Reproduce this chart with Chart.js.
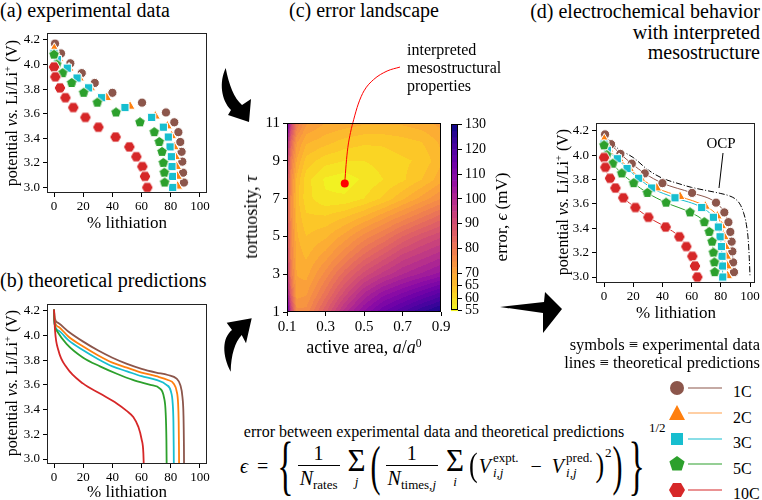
<!DOCTYPE html>
<html>
<head>
<meta charset="utf-8">
<script src="https://cdn.jsdelivr.net/npm/chart.js@4.4.1/dist/chart.umd.min.js"></script>
<style>
  body { margin: 0; width: 762px; height: 500px; position: relative; overflow: hidden; background: #fff; font-family: "Liberation Serif", serif; color: #000; }
  .t { position: absolute; white-space: nowrap; line-height: 1; }
  .rot { transform: translate(-50%, -50%) rotate(-90deg); }
  .ctr { transform: translate(-50%, -50%); }
  canvas { position: absolute; }
  sup { font-size: 0.65em; vertical-align: 0.55em; line-height: 0; }
  sub { font-size: 0.65em; vertical-align: -0.3em; line-height: 0; }
  #eq { position: absolute; left: 240px; top: 436px; height: 60px; display: flex; align-items: center; font-size: 20px; white-space: nowrap; }
  .frac { display: inline-flex; flex-direction: column; text-align: center; margin: 0 4px; line-height: 1.05; }
  .frac > span:first-child { border-bottom: 1px solid #000; padding-bottom: 1px; }
  .frac > span:last-child { padding: 2px 2px 0; }
  .sum { display: inline-flex; flex-direction: column; align-items: center; margin: 0 4px; line-height: 1; }
  .sum .sig { font-size: 31px; }
  .sum .lim { font-size: 13px; margin-top: -1px; }
  .br { display: inline-block; }
  .sp { margin: 0 1px; }
  .ss { display: inline-flex; flex-direction: column; font-size: 13px; line-height: 1.15; margin-left: 2px; margin-right: 2px; }
</style>
</head>
<body>

<div class="t" style="left:0;top:0;font-size:20px">(a) experimental data</div>
<div class="t" style="left:0;top:270px;font-size:20px">(b) theoretical predictions</div>
<div class="t ctr" style="left:364px;top:10px;font-size:20px">(c) error landscape</div>
<div class="t" style="right:2px;top:1px;font-size:20px;line-height:20.5px;text-align:right">(d) electrochemical behavior<br>with interpreted<br>mesostructure</div>

<canvas id="chartA" width="203" height="193" style="left:12px;top:22px"></canvas>
<canvas id="chartB" width="203" height="193" style="left:12px;top:293px"></canvas>
<canvas id="chartC" width="196" height="297" style="left:257px;top:40px"></canvas>
<canvas id="chartBar" width="47" height="209" style="left:451px;top:113px"></canvas>
<canvas id="chartD" width="201" height="193" style="left:561px;top:112px"></canvas>

<div class="t rot" style="left:12px;top:113px;font-size:16px">potential <i>vs.</i> Li/Li<sup>+</sup> (V)</div>
<div class="t ctr" style="left:127px;top:222px;font-size:17px">% lithiation</div>
<div class="t rot" style="left:12px;top:383px;font-size:16px">potential <i>vs.</i> Li/Li<sup>+</sup> (V)</div>
<div class="t ctr" style="left:127px;top:491px;font-size:17px">% lithiation</div>

<div class="t rot" style="left:251px;top:217px;font-size:18px">tortuosity, <i>τ</i></div>
<div class="t ctr" style="left:364px;top:347px;font-size:18px">active area, <i>a</i>/<i>a</i><sup>0</sup></div>
<div class="t rot" style="left:501px;top:217px;font-size:17px">error, <i>ϵ</i> (mV)</div>
<div class="t" style="left:407px;top:41px;font-size:16px;line-height:18px">interpreted<br>mesostructural<br>properties</div>

<div class="t rot" style="left:563px;top:202px;font-size:16px">potential <i>vs.</i> Li/Li<sup>+</sup> (V)</div>
<div class="t ctr" style="left:676px;top:312px;font-size:17px">% lithiation</div>
<div class="t ctr" style="left:721px;top:143px;font-size:15px">OCP</div>

<div class="t" style="right:2px;top:336px;font-size:16.5px;line-height:18px;text-align:right">symbols ≡ experimental data<br>lines ≡ theoretical predictions</div>
<div class="t" style="left:733px;top:379px;font-size:16px;line-height:25.5px">1C<br>2C<br>3C<br>5C<br>10C</div>

<div class="t ctr" style="left:434px;top:432px;font-size:16px">error between experimental data and theoretical predictions</div>
<div id="eq">
  <i>ϵ</i><span style="margin:0 9px">=</span>
  <span class="br" style="font-size:34px;transform:scaleY(1.95)">{</span>
  <span class="frac"><span>1</span><span><i>N</i><sub>rates</sub></span></span>
  <span class="sum"><span class="sig">Σ</span><span class="lim"><i>j</i></span></span>
  <span class="br sp" style="font-size:30px;transform:scaleY(1.85)">(</span>
  <span class="frac"><span>1</span><span><i>N</i><sub>times,<i>j</i></sub></span></span>
  <span class="sum"><span class="sig">Σ</span><span class="lim"><i>i</i></span></span>
  <span class="br sp" style="font-size:26px;transform:scaleY(1.3)">(</span>
  <i>V</i><span class="ss"><span>expt.</span><span><i>i,j</i></span></span>
  <span style="margin:0 10px">−</span>
  <i>V</i><span class="ss"><span>pred.</span><span><i>i,j</i></span></span>
  <span class="br sp" style="font-size:26px;transform:scaleY(1.3)">)</span><span style="font-size:13px;align-self:flex-start;margin-top:9px">2</span>
  <span class="br sp" style="font-size:30px;transform:scaleY(1.85)">)</span>
  <span class="br" style="font-size:34px;transform:scaleY(1.95);margin-left:5px">}</span>
  <span style="align-self:flex-start;font-size:13px;margin-left:4px;margin-top:-16px">1/2</span>
</div>

<svg width="762" height="500" style="position:absolute;left:0;top:0">
  <path d="M225.7 68 C219 82 221 100 231 110 L228 115 L249 122 L251 99 L242 105 C234 98 229 85 225.7 68 Z" fill="#000"/>
  <path d="M230.7 371.7 C222 355 222 338 232 330 L226.7 322.7 L251.7 318.3 L246 343.3 L241.7 335 C235 342 231 355 230.7 371.7 Z" fill="#000"/>
  <path d="M500 307 L544 302 L545 292 L562 309 L543 333 L543 313 Z" fill="#000"/>
  <line x1="723" y1="153" x2="719" y2="188" stroke="#000" stroke-width="1"/>
  <circle cx="677" cy="388" r="7" fill="#8c564b"/>
  <polygon points="677,405 685,420 669,420" fill="#ff7f0e"/>
  <rect x="671" y="433" width="12" height="12" fill="#17becf"/>
  <polygon points="677,456 684.6,461.5 681.7,470.5 672.3,470.5 669.4,461.5" fill="#2ca02c"/>
  <polygon points="685,490 681,496.9 673,496.9 669,490 673,483.1 681,483.1" fill="#d62728"/>
  <line x1="688" y1="388" x2="722" y2="388" stroke="#8c564b" stroke-width="1.2"/>
  <line x1="688" y1="413" x2="722" y2="413" stroke="#ffa04a" stroke-width="1.2"/>
  <line x1="688" y1="439" x2="722" y2="439" stroke="#17becf" stroke-width="1.2"/>
  <line x1="688" y1="464" x2="722" y2="464" stroke="#2ca02c" stroke-width="1.2"/>
  <line x1="688" y1="490" x2="722" y2="490" stroke="#d62728" stroke-width="1.2"/>
</svg>

<script>
// --- Data ---
const rates = ["1C", "2C", "3C", "5C", "10C"];
const rateColors = ["#8c564b", "#ff7f0e", "#17becf", "#2ca02c", "#d62728"];

// experimental symbols (% lithiation, V)
const exptLith1C = [0.7, 4.8, 11.2, 19.0, 27.9, 40.0, 60.3, 76.7, 82.4, 85.2, 86.5, 87.4, 87.9, 88.4, 89.0];
const exptVolt1C = [4.17, 4.09, 4.01, 3.93, 3.85, 3.77, 3.69, 3.61, 3.53, 3.45, 3.37, 3.29, 3.21, 3.12, 3.04];
const exptLith2C = [0.2, 3.2, 10.3, 17.4, 25.1, 36.1, 52.1, 69.4, 77.6, 80.6, 82.4, 83.3, 84.0, 84.5, 84.7];
const exptVolt2C = [4.13, 4.05, 3.97, 3.89, 3.81, 3.73, 3.66, 3.58, 3.50, 3.42, 3.33, 3.25, 3.17, 3.09, 3.01];
const exptLith3C = [0.0, 2.3, 9.1, 15.8, 23.7, 32.6, 48.6, 66.9, 74.9, 78.3, 79.5, 80.4, 80.8, 81.1, 81.3];
const exptVolt3C = [4.09, 4.04, 3.97, 3.89, 3.81, 3.73, 3.65, 3.57, 3.49, 3.41, 3.33, 3.25, 3.17, 3.09, 3.00];
const exptLith5C = [0.0, 1.8, 5.9, 12.1, 20.3, 29.7, 42.5, 58.9, 68.7, 72.1, 74.0, 74.9, 75.6, 75.8];
const exptVolt5C = [4.08, 4.00, 3.93, 3.85, 3.77, 3.69, 3.61, 3.53, 3.45, 3.37, 3.29, 3.20, 3.12, 3.04];
const exptLith10C = [0.0, 0.9, 4.1, 7.8, 13.2, 21.5, 30.4, 42.2, 51.6, 56.4, 60.5, 62.3, 63.9];
const exptVolt10C = [3.98, 3.90, 3.81, 3.73, 3.65, 3.57, 3.49, 3.41, 3.33, 3.25, 3.17, 3.09, 3.00];

// theoretical predictions, panel (b)
const predLith1C = [0, 0.5, 3, 10, 20, 30, 40, 50, 60, 70, 78, 84, 86.5, 88, 88.7, 89, 89.1];
const predVolt1C = [4.21, 4.14, 4.10, 4.03, 3.95, 3.88, 3.82, 3.77, 3.73, 3.70, 3.68, 3.65, 3.60, 3.50, 3.35, 3.10, 2.90];
const predLith2C = [0, 0.4, 3, 10, 20, 30, 40, 50, 60, 70, 78, 82, 84, 85, 85.4, 85.6, 85.7];
const predVolt2C = [4.21, 4.12, 4.07, 3.99, 3.91, 3.84, 3.78, 3.74, 3.70, 3.67, 3.64, 3.61, 3.55, 3.45, 3.30, 3.10, 2.90];
const predLith3C = [0, 0.3, 3, 10, 20, 30, 40, 50, 60, 70, 77, 80, 81.3, 81.8, 82, 82.1];
const predVolt3C = [4.21, 4.10, 4.04, 3.96, 3.88, 3.81, 3.75, 3.71, 3.67, 3.64, 3.60, 3.55, 3.45, 3.30, 3.10, 2.90];
const predLith5C = [0, 0.2, 1.8, 8.7, 20, 31.5, 43, 54, 66, 72.6, 75.3, 76.5, 77, 77.2];
const predVolt5C = [4.21, 4.12, 4.04, 3.93, 3.82, 3.75, 3.69, 3.64, 3.60, 3.57, 3.50, 3.37, 3.15, 2.90];
const predLith10C = [0, 0.7, 3, 8.7, 20, 31.5, 43, 49.8, 54.3, 57.8, 60, 61.2, 61.6];
const predVolt10C = [4.21, 4.04, 3.88, 3.74, 3.61, 3.53, 3.45, 3.39, 3.34, 3.26, 3.16, 3.05, 2.90];

// open circuit potential, panel (d)
const ocpLith = [0, 5, 10, 20, 30, 40, 50, 60, 70, 80, 86, 90, 93, 95.5, 97.5, 98.8, 99.5, 100];
const ocpVolt = [4.17, 4.10, 4.05, 3.98, 3.88, 3.81, 3.77, 3.735, 3.71, 3.685, 3.665, 3.64, 3.60, 3.53, 3.43, 3.30, 3.15, 3.00];

const lithTicks = [0, 20, 40, 60, 80, 100];
const voltTicks = [3.0, 3.2, 3.4, 3.6, 3.8, 4.0, 4.2];

// error landscape, panel (c): error (mV) on an active-area x tortuosity grid
const areaGrid = [0.1, 0.12, 0.15, 0.2, 0.3, 0.4, 0.5, 0.6, 0.7, 0.8, 0.9];
const tauGrid = [1, 2, 3, 4, 5, 6, 7, 8, 9, 10, 11];
const errTau1 = [122, 95, 76, 76, 87, 99, 108, 115, 120, 125, 129];
const errTau2 = [108, 85, 71, 72, 81, 91, 100, 106, 110, 114, 118];
const errTau3 = [100, 80, 70, 69, 76, 84, 91, 96, 100, 103, 106];
const errTau4 = [95, 78, 69, 67, 71, 77, 83, 88, 93, 96, 99];
const errTau5 = [92, 77, 68, 65, 67, 71, 76, 80, 85, 89, 92];
const errTau6 = [90, 76, 67, 63, 63, 65, 68, 72, 76, 80, 84];
const errTau7 = [90, 76, 66, 61, 58, 58, 60, 63, 67, 71, 75];
const errTau8 = [92, 77, 67, 61, 57, 56, 58, 60, 62, 65, 69];
const errTau9 = [97, 80, 70, 64, 61, 60, 60, 61, 62, 63, 67];
const errTau10 = [105, 85, 73, 68, 66, 64, 63, 63, 64, 65, 68];
const errTau11 = [118, 95, 80, 73, 70, 69, 68, 68, 68, 69, 71];
const errGrid = [errTau1, errTau2, errTau3, errTau4, errTau5, errTau6, errTau7, errTau8, errTau9, errTau10, errTau11];

const bestArea = [0.4];
const bestTau = [7.8];
const leaderArea = [0.40, 0.407, 0.416, 0.43, 0.447, 0.47, 0.50, 0.55, 0.62, 0.687];
const leaderTau = [7.8, 8.8, 9.7, 10.5, 11.2, 12.0, 12.7, 13.3, 13.75, 13.96];

const areaTicks = [0.1, 0.3, 0.5, 0.7, 0.9];
const tauTicks = [1, 3, 5, 7, 9, 11];
const barTicks = [55, 60, 65, 70, 80, 90, 100, 110, 120, 130];

// --- Helpers ---
const pts = (xs, ys) => xs.map((x, i) => ({ x, y: ys[i] }));
const exptLith = [exptLith1C, exptLith2C, exptLith3C, exptLith5C, exptLith10C];
const exptVolt = [exptVolt1C, exptVolt2C, exptVolt3C, exptVolt5C, exptVolt10C];
const predLith = [predLith1C, predLith2C, predLith3C, predLith5C, predLith10C];
const predVolt = [predVolt1C, predVolt2C, predVolt3C, predVolt5C, predVolt10C];

function polyMarker(sides, r, fill, rot) {
  const c = document.createElement("canvas");
  const s = Math.ceil(2 * r + 4);
  c.width = c.height = s;
  const g = c.getContext("2d");
  g.beginPath();
  for (let k = 0; k < sides; k++) {
    const ang = rot + (k * 2 * Math.PI) / sides;
    const px = s / 2 + r * Math.sin(ang), py = s / 2 - r * Math.cos(ang);
    k ? g.lineTo(px, py) : g.moveTo(px, py);
  }
  g.closePath();
  g.fillStyle = fill;
  g.fill();
  g.strokeStyle = "#fff";
  g.lineWidth = 1;
  g.stroke();
  return c;
}
const markerStyles = ["circle", "triangle", "rect", polyMarker(5, 5.6, rateColors[3], 0), polyMarker(6, 5.9, rateColors[4], Math.PI / 6)];
const markerRadius = [4.6, 5.8, 5.8, 5.6, 5.9];

// plasma colormap stops (reversed below so low error is yellow)
const plasma = ["#0d0887", "#41049d", "#6a00a8", "#8f0da4", "#b12a90", "#cc4778", "#e16462", "#f2844b", "#fca636", "#fcce25", "#f0f921"]
  .map((h) => [1, 3, 5].map((o) => parseInt(h.substr(o, 2), 16)));
const errMin = 55, errMax = 130, levelStep = 2.5;
function plasmaAt(t) {
  t = Math.min(1, Math.max(0, t)) * (plasma.length - 1);
  const i = Math.min(plasma.length - 2, Math.floor(t)), f = t - i;
  return plasma[i].map((c, k) => Math.round(c + (plasma[i + 1][k] - c) * f));
}
function bandColor(v) {
  const n = Math.round((errMax - errMin) / levelStep);
  const idx = Math.min(n - 1, Math.max(0, Math.floor((v - errMin) / levelStep)));
  const mid = errMin + (idx + 0.5) * levelStep;
  return plasmaAt((errMax - mid) / (errMax - errMin));
}
function findCell(grid, v) {
  let i = 0;
  while (i < grid.length - 2 && v > grid[i + 1]) i++;
  const f = Math.min(1, Math.max(0, (v - grid[i]) / (grid[i + 1] - grid[i])));
  return [i, f];
}
function sampleErr(a, tau) {
  const [i, fx] = findCell(areaGrid, a);
  const [j, fy] = findCell(tauGrid, tau);
  const r0 = errGrid[j], r1 = errGrid[j + 1];
  const v0 = r0[i] + (r0[i + 1] - r0[i]) * fx;
  const v1 = r1[i] + (r1[i + 1] - r1[i]) * fx;
  return v0 + (v1 - v0) * fy;
}

const framePlugin = {
  id: "frame",
  afterDraw(chart) {
    const { ctx, chartArea: a } = chart;
    ctx.save();
    ctx.strokeStyle = chart.options.frameColor || "#222";
    ctx.lineWidth = 1;
    ctx.strokeRect(Math.round(a.left) + 0.5, Math.round(a.top) + 0.5, Math.round(a.right - a.left) - 1, Math.round(a.bottom - a.top) - 1);
    ctx.restore();
  },
};

const heatPlugin = {
  id: "heat",
  beforeDatasetsDraw(chart) {
    const { ctx, chartArea: ca, scales: { x, y } } = chart;
    const x0 = Math.round(ca.left), y0 = Math.round(ca.top);
    const w = Math.round(ca.right) - x0, h = Math.round(ca.bottom) - y0;
    const img = ctx.createImageData(w, h);
    for (let j = 0; j < h; j++) {
      const tau = y.getValueForPixel(y0 + j + 0.5);
      for (let i = 0; i < w; i++) {
        const c = bandColor(sampleErr(x.getValueForPixel(x0 + i + 0.5), tau));
        const k = (j * w + i) * 4;
        img.data[k] = c[0]; img.data[k + 1] = c[1]; img.data[k + 2] = c[2]; img.data[k + 3] = 255;
      }
    }
    ctx.putImageData(img, x0, y0);
  },
};

const barPlugin = {
  id: "bar",
  beforeDatasetsDraw(chart) {
    const { ctx, chartArea: ca, scales: { y } } = chart;
    for (let lo = errMin; lo < errMax - 0.01; lo += levelStep) {
      const c = bandColor(lo + levelStep / 2);
      const top = y.getPixelForValue(lo + levelStep), bot = y.getPixelForValue(lo);
      ctx.fillStyle = `rgb(${c[0]},${c[1]},${c[2]})`;
      ctx.fillRect(ca.left, top, ca.right - ca.left, bot - top + 0.5);
    }
  },
};

const tickGrid = { drawOnChartArea: false, drawTicks: true, tickLength: 4, color: "#000", lineWidth: 1 };
const tickFont = (size) => ({ color: "#000", font: { family: "Liberation Serif", size }, autoSkip: false, maxRotation: 0 });

function axes(xMin, xMax, xTicks, xFmt, yMin, yMax, yTicks, yFmt, size, yWidth, xHeight) {
  return {
    x: {
      type: "linear", min: xMin, max: xMax,
      afterBuildTicks: (s) => { s.ticks = xTicks.map((v) => ({ value: v })); },
      afterFit: (s) => { s.height = xHeight; },
      grid: tickGrid, border: { display: false },
      ticks: { ...tickFont(size), padding: 2, callback: xFmt },
    },
    y: {
      type: "linear", min: yMin, max: yMax,
      afterBuildTicks: (s) => { s.ticks = yTicks.map((v) => ({ value: v })); },
      afterFit: (s) => { s.width = yWidth; },
      grid: tickGrid, border: { display: false },
      ticks: { ...tickFont(size), padding: 3, callback: yFmt },
    },
  };
}

function baseOptions(scales, padding) {
  return {
    responsive: false, animation: false, events: [],
    layout: { padding },
    plugins: { legend: { display: false }, tooltip: { enabled: false } },
    scales,
  };
}

const fmtInt = (v) => String(Math.round(v));
const fmtOne = (v) => Number(v).toFixed(1);

function symbolSets() {
  return rates.map((r, i) => ({
    label: r,
    data: pts(exptLith[i], exptVolt[i]),
    pointStyle: markerStyles[i],
    pointRadius: markerRadius[i],
    backgroundColor: rateColors[i],
    borderColor: "#fff",
    borderWidth: 1,
    order: 5 - i,
  }));
}

// (a) experimental data
new Chart(document.getElementById("chartA"), {
  type: "scatter",
  data: { datasets: symbolSets() },
  options: baseOptions(axes(-4.8, 104.8, lithTicks, fmtInt, 2.955, 4.258, voltTicks, fmtOne, 13, 35, 22), { top: 10, right: 8, left: 0, bottom: 0 }),
  plugins: [framePlugin],
});

// (b) theoretical predictions
new Chart(document.getElementById("chartB"), {
  type: "scatter",
  data: {
    datasets: rates.map((r, i) => ({
      label: r,
      data: pts(predLith[i], predVolt[i]),
      showLine: true,
      pointRadius: 0,
      borderColor: rateColors[i],
      borderWidth: 1.8,
      cubicInterpolationMode: "monotone",
      order: 5 - i,
    })),
  },
  options: baseOptions(axes(-4.8, 104.8, lithTicks, fmtInt, 2.96, 4.256, voltTicks, fmtOne, 13, 35, 22), { top: 10, right: 8, left: 0, bottom: 0 }),
  plugins: [framePlugin],
});

// (c) error landscape
const optsC = baseOptions(axes(0.1, 0.9, areaTicks, fmtOne, 1, 11, tauTicks, fmtInt, 15, 30, 25), { top: 83, right: 12, left: 0, bottom: 0 });
optsC.frameColor = "#000";
new Chart(document.getElementById("chartC"), {
  type: "scatter",
  data: {
    datasets: [
      { data: pts(bestArea, bestTau), pointRadius: 4, backgroundColor: "#ff0000", borderWidth: 0, order: 0 },
      { data: pts(leaderArea, leaderTau), showLine: true, pointRadius: 0, borderColor: "#ff0000", borderWidth: 1, cubicInterpolationMode: "monotone", clip: false, order: 1 },
    ],
  },
  options: optsC,
  plugins: [heatPlugin, framePlugin],
});

// colorbar
new Chart(document.getElementById("chartBar"), {
  type: "scatter",
  data: { datasets: [] },
  options: {
    responsive: false, animation: false, events: [],
    layout: { padding: { top: 10, bottom: 10, left: 0, right: 0 } },
    plugins: { legend: { display: false }, tooltip: { enabled: false } },
    frameColor: "#000",
    scales: {
      x: { display: false, min: 0, max: 1 },
      y: {
        type: "linear", position: "right", min: errMin, max: errMax,
        afterBuildTicks: (s) => { s.ticks = barTicks.map((v) => ({ value: v })); },
        afterFit: (s) => { s.width = 40; },
        grid: tickGrid, border: { display: false },
        ticks: { ...tickFont(14), padding: 3, callback: fmtInt },
      },
    },
  },
  plugins: [barPlugin, framePlugin],
});

// (d) behaviour with interpreted mesostructure
new Chart(document.getElementById("chartD"), {
  type: "scatter",
  data: {
    datasets: [
      ...symbolSets(),
      ...rates.map((r, i) => ({
        data: pts(exptLith[i], exptVolt[i]),
        showLine: true,
        pointRadius: 0,
        borderColor: rateColors[i],
        borderWidth: 1,
        cubicInterpolationMode: "monotone",
        order: 10 + i,
      })),
      { data: pts(ocpLith, ocpVolt), showLine: true, pointRadius: 0, borderColor: "#000", borderWidth: 1, borderDash: [6, 2, 1, 2], cubicInterpolationMode: "monotone", order: 20 },
    ],
  },
  options: baseOptions(axes(-5.5, 103.4, lithTicks, fmtInt, 2.951, 4.265, voltTicks, fmtOne, 13, 35, 22), { top: 10, right: 7, left: 0, bottom: 0 }),
  plugins: [framePlugin],
});
</script>
</body>
</html>
